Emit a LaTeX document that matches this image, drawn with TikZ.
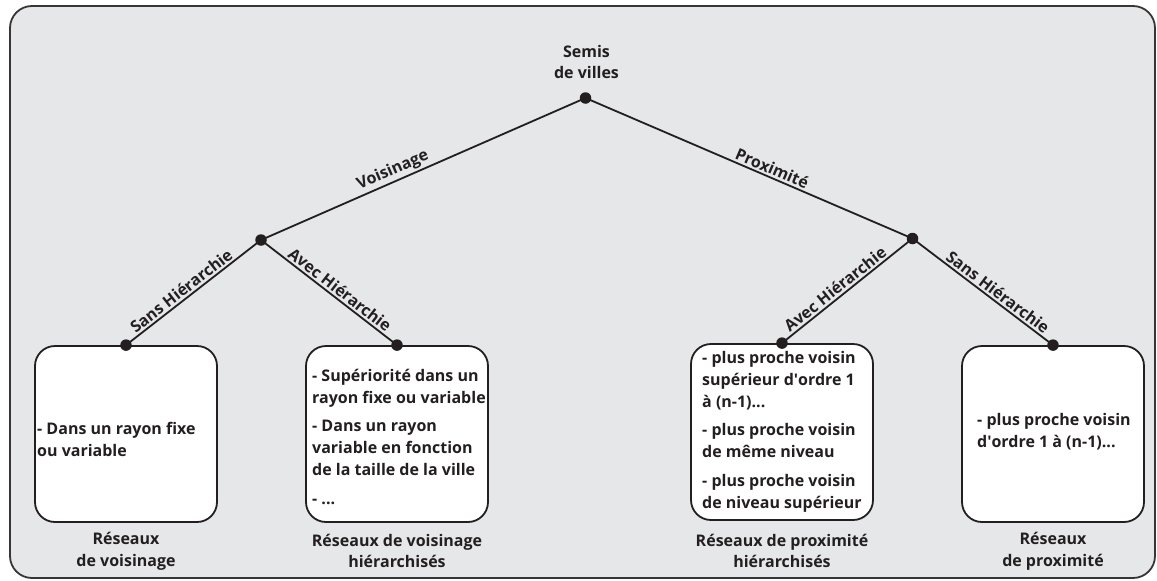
\documentclass[tikz,border=0pt]{standalone}
\usepackage{fontspec}
\setmainfont{Open Sans}
\definecolor{ink}{HTML}{231F20}
\definecolor{panel}{HTML}{E6E7E8}
\newcommand\dfont{\fontsize{16}{21.7}\selectfont\bfseries}
\tikzset{
  x=1pt, y=-1pt,
  dot/.style={circle, fill=ink, inner sep=0pt, minimum size=11.5pt},
  leafbox/.style={draw=ink, line width=1.8pt, fill=white, rounded corners=20pt,
    minimum width=182pt, minimum height=176pt, inner sep=0pt},
  branch/.style={line width=1.8pt, draw=ink},
  lab/.style={font=\dfont, text=ink, inner sep=0pt, align=center},
  edgelab/.style={font=\dfont, text=ink, sloped, above, inner sep=2pt},
  boxtxt/.style={font=\dfont, text=ink, inner sep=0pt, align=left, anchor=base west},
}
\begin{document}
\begin{tikzpicture}
\useasboundingbox (0,0) rectangle (1157,581);
\draw[draw=ink!90, line width=1.8pt, fill=panel, rounded corners=22pt] (10,6) rectangle (1155,578);

% boxes
\node[leafbox] (b1) at (126,434) {};
\node[leafbox] (b2) at (397,434) {};
\node[leafbox] (b3) at (782,432) {};
\node[leafbox] (b4) at (1053,434) {};

% dots
\node[dot] (root) at (585.5,98) {};
\node[dot] (v) at (261,240) {};
\node[dot] (p) at (912.5,238.5) {};
\node[dot] (d1) at (b1.north) {};
\node[dot] (d2) at (b2.north) {};
\node[dot] (d3) at (b3.north) {};
\node[dot] (d4) at (b4.north) {};

% branches
\draw[branch] (v.center) -- node[edgelab, pos=0.42] {Voisinage} (root.center);
\draw[branch] (root.center) -- node[edgelab, pos=0.56] {Proximité} (p.center);
\draw[branch] (d1.center) -- node[edgelab, pos=0.45] {Sans Hiérarchie} (v.center);
\draw[branch] (v.center) -- node[edgelab, pos=0.54] {Avec Hiérarchie} (d2.center);
\draw[branch] (d3.center) -- node[edgelab, pos=0.45] {Avec Hiérarchie} (p.center);
\draw[branch] (p.center) -- node[edgelab, pos=0.57] {Sans Hiérarchie} (d4.center);

% titles
\node[lab] (top) at (586.5,62) {Semis\\de villes};
\node[lab] (l1) at (126,551) {Réseaux\\de voisinage};
\node[lab] (l2) at (397,551) {Réseaux de voisinage\\hiérarchisés};
\node[lab] (l3) at (782,551) {Réseaux de proximité\\hiérarchisés};
\node[lab] (l4) at (1053,551) {Réseaux\\de proximité};

% box texts (anchored at the baseline of the last line)
\node[boxtxt] (t1) at (37,456) {- Dans un rayon fixe\\ou variable};
\node[boxtxt] (t2) at (312,504) {- Supériorité dans un\\rayon fixe ou variable\\[7pt]- Dans un rayon\\variable en fonction\\de la taille de la ville\\[7pt]- ...};
\node[boxtxt] (t3) at (702,508) {- plus proche voisin\\supérieur d\textquotesingle ordre 1\\à (n-1)...\\[7pt]- plus proche voisin\\de même niveau\\[7pt]- plus proche voisin\\de niveau supérieur};
\node[boxtxt] (t4) at (977,447) {- plus proche voisin\\d\textquotesingle ordre 1 à (n-1)...};
\end{tikzpicture}
\end{document}
